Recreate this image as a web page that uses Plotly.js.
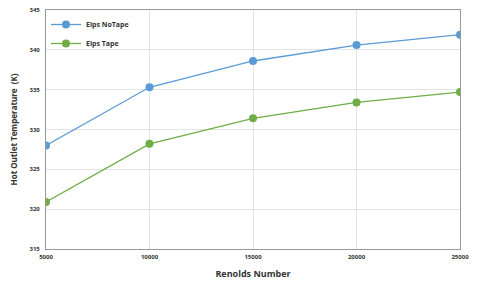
<!DOCTYPE html>
<html><head><meta charset="utf-8">
<script src="https://cdn.plot.ly/plotly-3.0.1.min.js"></script>
<style>html,body{margin:0;padding:0;background:#fff}#c{width:480px;height:289px}</style>
</head><body><div id="c"></div>
<script>
const reynolds = [5000, 10000, 15000, 20000, 25000];
const noTape = [328.0, 335.3, 338.6, 340.6, 341.9];
const tape = [320.9, 328.2, 331.4, 333.4, 334.7];
const yTicks = [315, 320, 325, 330, 335, 340, 345];

const traces = [
  {x: reynolds, y: noTape, name: 'Elps NoTape', mode: 'lines+markers',
   line: {color: '#5B9BD5', width: 1.3}, marker: {color: '#5B9BD5', size: 8}},
  {x: reynolds, y: tape, name: 'Elps Tape', mode: 'lines+markers',
   line: {color: '#70AD47', width: 1.3}, marker: {color: '#70AD47', size: 8}}
];
const layout = {
  width: 480, height: 289,
  margin: {l: 46, r: 20, t: 10, b: 40},
  paper_bgcolor: '#fff', plot_bgcolor: '#fff',
  font: {family: 'Open Sans, sans-serif', color: '#333'},
  showlegend: true,
  legend: {x: 0, y: 1, xanchor: 'left', yanchor: 'top', bgcolor: 'rgba(0,0,0,0)',
    font: {size: 7, color: '#333', family: 'Open Sans, sans-serif', weight: 'bold'}, tracegroupgap: 0},
  xaxis: {range: [5000, 25000], tickvals: reynolds, ticktext: reynolds.map(String),
    showgrid: true, gridcolor: '#e3e3e3', zeroline: false,
    showline: true, linecolor: '#999', linewidth: 1, mirror: true, ticks: '',
    ticklabelstandoff: 2,
    tickfont: {size: 6, color: '#333', weight: 'bold'},
    title: {text: 'Renolds Number', font: {size: 9, weight: 'bold', color: '#333'}, standoff: 10}},
  yaxis: {range: [315, 345], tickvals: yTicks, showgrid: true, gridcolor: '#e3e3e3', zeroline: false,
    showline: true, linecolor: '#999', linewidth: 1, mirror: true, ticks: '',
    ticklabelstandoff: 4,
    tickfont: {size: 6, color: '#333', weight: 'bold'},
    title: {text: 'Hot Outlet Temperature  (K)', font: {size: 8, weight: 'bold', color: '#333'}, standoff: 10}}
};
Plotly.newPlot('c', traces, layout, {displayModeBar: false, staticPlot: true});
</script></body></html>
